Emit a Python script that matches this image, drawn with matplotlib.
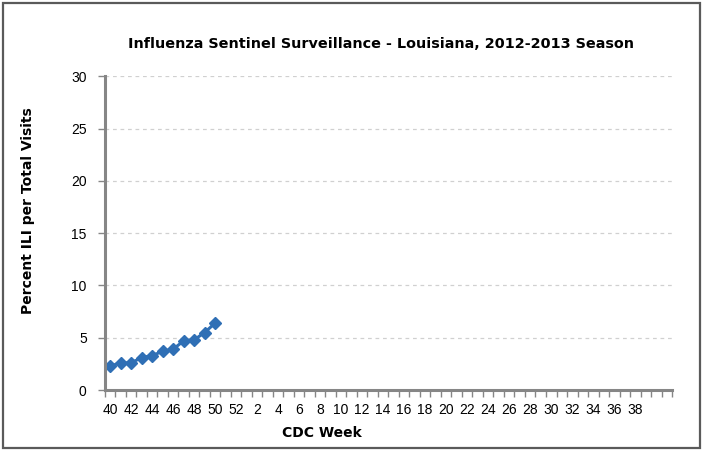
import numpy as np
import matplotlib.pyplot as plt
from matplotlib.patches import Rectangle

# CDC weeks of the 2012-2013 season (two trailing empty slots as in the sheet)
weeks = [str(w) for w in range(40, 53)] + [str(w) for w in range(1, 40)] + ['', '']
# percent ILI, reported weeks only
ili = [2.3, 2.6, 2.6, 3.1, 3.3, 3.7, 3.9, 4.7, 4.8, 5.5, 6.4]
y_ticks = [0, 5, 10, 15, 20, 25, 30]

axis_gray = '#868686'
line_blue = '#2F6FB5'

fig = plt.figure(figsize=(7.03, 4.51), dpi=100)
fig.patches.append(Rectangle((0.004, 0.006), 0.992, 0.988, transform=fig.transFigure,
                             fill=False, edgecolor='#5a5a5a', linewidth=1.6))

ax = fig.add_axes([0.149, 0.135, 0.807, 0.696])
x = np.arange(len(ili))
ax.plot(x, ili, color=line_blue, linewidth=2.2, marker='D', markersize=6,
        markerfacecolor=line_blue, markeredgecolor=line_blue)

ax.set_xlim(-0.5, len(weeks) - 0.5)
ax.set_ylim(0, 30)
ax.set_yticks(y_ticks)
ax.set_yticklabels([str(t) for t in y_ticks], fontsize=10, family='Liberation Sans')
ax.yaxis.grid(True, color='#d0d0d0', linestyle=(0, (3, 3)), linewidth=0.9)
ax.set_axisbelow(True)

# labels every other category, tick marks on category boundaries
ax.set_xticks(np.arange(0, len(weeks), 2))
ax.set_xticklabels(weeks[::2], fontsize=10, family='Liberation Sans')
ax.set_xticks(np.arange(-0.5, len(weeks), 1), minor=True)
ax.tick_params(axis='x', which='major', length=0, pad=9)
ax.tick_params(axis='x', which='minor', length=5, width=1, color=axis_gray, direction='out')
ax.tick_params(axis='y', length=5, width=1, color=axis_gray, direction='out', pad=8)

for side in ['top', 'right']:
    ax.spines[side].set_visible(False)
for side in ['left', 'bottom']:
    ax.spines[side].set_color(axis_gray)
    ax.spines[side].set_linewidth(2.2)

fig.text(0.542, 0.902, 'Influenza Sentinel Surveillance - Louisiana, 2012-2013 Season',
         ha='center', va='center', fontsize=10.4, fontweight='bold', family='DejaVu Sans')
fig.text(0.458, 0.040, 'CDC Week', ha='center', va='center', fontsize=10,
         fontweight='bold', family='DejaVu Sans')
fig.text(0.040, 0.533, 'Percent ILI per Total Visits', ha='center', va='center',
         rotation=90, fontsize=10, fontweight='bold', family='DejaVu Sans')

fig.savefig('out.png', dpi=100)
